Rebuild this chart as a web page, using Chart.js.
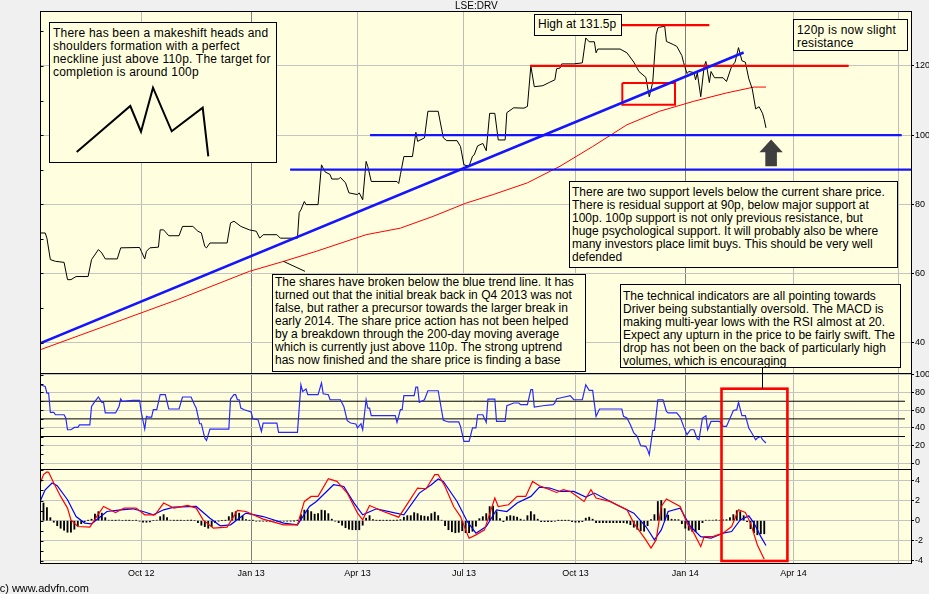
<!DOCTYPE html>
<html><head><meta charset="utf-8">
<script src="https://cdn.jsdelivr.net/npm/chart.js@4.4.1/dist/chart.umd.min.js"></script>
<style>
html,body{margin:0;padding:0;background:#F0F0F0;width:929px;height:594px;overflow:hidden;}
#wrap{position:relative;width:929px;height:594px;}
#c{position:absolute;left:0;top:0;}
.box{position:absolute;background:#FFFFDF;border:1px solid #000;box-sizing:border-box;font-family:"Liberation Sans",Arial,sans-serif;font-size:12px;line-height:13px;color:#000;white-space:nowrap;}
.lbl{position:absolute;font-family:"Liberation Sans",Arial,sans-serif;color:#000;white-space:nowrap;}
</style></head>
<body><div id="wrap">
<canvas id="c" width="929" height="594"></canvas>
<div class="lbl" style="left:455px;top:0px;font-size:10px;">LSE:DRV</div>
<div class="lbl" style="left:-4px;top:582px;font-size:11px;">(c) www.advfn.com</div>
<div class="box" style="left:49px;top:22px;width:228px;height:141px;padding:4px 0 0 3px;letter-spacing:0.2px;">There has been a makeshift heads and<br>shoulders formation with a perfect<br>neckline just above 110p. The target for<br>completion is around 100p
<svg style="position:absolute;left:0;top:0;" width="226" height="139"><polyline points="26.7,129 80.3,83 91,108.7 103,64.7 121.7,108.3 152.7,84.7 158.3,133.3" fill="none" stroke="#000" stroke-width="2"/></svg></div>
<div class="box" style="left:534px;top:14px;width:88px;height:22px;padding:3px 0 0 3px;">High at 131.5p</div>
<div class="box" style="left:793px;top:19px;width:115px;height:32px;padding:4px 0 0 3px;letter-spacing:0.2px;">120p is now slight<br>resistance</div>
<div class="box" style="left:569px;top:181px;width:329px;height:87px;padding:4px 0 0 2px;">There are two support levels below the current share price.<br>There is residual support at 90p, below major support at<br>100p. 100p support is not only previous resistance, but<br>huge psychological support. It will probably also be where<br>many investors place limit buys. This should be very well<br>defended</div>
<div class="box" style="left:272px;top:274px;width:314px;height:98px;padding:1px 0 0 2px;">The shares have broken below the blue trend line. It has<br>turned out that the initial break back in Q4 2013 was not<br>false, but rather a precursor towards the larger break in<br>early 2014. The share price action has not been helped<br>by a breakdown through the 200-day moving average<br>which is currently just above 110p. The strong uptrend<br>has now finished and the share price is finding a base</div>
<div class="box" style="left:620px;top:284px;width:281px;height:84px;padding:5px 0 0 2px;">The technical indicators are all pointing towards<br>Driver being substantially oversold. The MACD is<br>making multi-year lows with the RSI almost at 20.<br>Expect any upturn in the price to be fairly swift. The<br>drop has not been on the back of particularly high<br>volumes, which is encouraging</div>
</div>
<script>
// ---- axis ticks (x = trading days since 1 Oct 2012) ----
const quarterDays = [0, 64, 126, 188, 253, 317, 380, 441];
const quarterLabels = ["Oct 12", "Jan 13", "Apr 13", "Jul 13", "Oct 13", "Jan 14", "Apr 14", ""];
const priceTicks = [40, 60, 80, 100, 120];
const rsiTicks = [0, 20, 40, 60, 80, 100];
const macdTicks = [-4, -2, 0, 2, 4];

// ---- share price (p) ----
const priceDays = [-59,-56,-55,-53,-50,-45,-43,-41,-38,-31,-29,-25,-23,-21,-14,-12,-1,0,2,3,5,10,11,13,16,22,24,30,33,35,37,38,40,50,52,54,58,63,67,69,71,79,81,91,92,93,95,96,103,105,107,110,111,115,116,119,121,126,127,129,131,132,134,149,150,151,153,158,160,161,163,165,167,173,176,178,184,186,188,191,193,194,196,199,201,203,206,208,212,213,217,223,225,227,229,234,238,241,242,244,245,252,257,259,261,264,265,266,279,283,287,290,294,296,298,300,301,302,305,306,310,312,315,316,318,319,322,323,324,326,328,329,331,332,334,339,341,344,346,348,350,352,354,356,358,360,362,363,364];
const priceVals = [71.7,71.7,70.2,64.0,63.5,63.2,58.2,58.2,59.1,59.1,64.0,66.9,65.9,64.2,64.2,67.4,67.5,66.4,64.2,66.4,67.4,67.6,72.6,72.6,70.9,70.9,73.6,73.6,72.2,71.7,67.8,67.4,68.8,68.8,74.6,75.1,73.6,72.6,72.2,70.2,71.2,71.2,70.2,70.2,77.6,78.4,80.8,79.9,79.9,91.4,89.4,88.6,87.3,87.3,87.8,86.2,83.3,82.8,83.3,81.3,92.4,90.9,86.6,86.6,86.0,88.6,93.8,93.8,100.8,98.2,98.7,99.2,106.9,106.9,99.2,98.4,98.4,96.7,91.4,91.0,93.9,94.3,96.9,97.6,95.5,106.3,106.3,98.6,98.6,106.5,107.9,107.8,108.3,120.0,114.0,114.3,115.3,116.0,119.2,119.4,120.6,120.6,120.9,128.1,127.0,127.0,123.8,124.9,124.9,123.8,121.1,118.4,116.7,111.1,115.2,129.1,131.0,131.2,131.5,127.1,126.2,125.7,123.0,121.0,117.8,118.4,118.1,116.0,118.0,111.1,119.9,121.3,115.2,118.4,116.6,116.6,115.5,119.9,121.1,125.3,121.5,121.1,116.3,113.4,107.6,108.2,106.3,104.5,102.1];

// ---- 200-day moving average ----
const maDays = [-59,21,63,83,102,131,151,170,189,205,225,244,263,283,302,322,341,357,364];
const maVals = [37.9,52.4,60.6,63.5,66.4,71.2,73.1,76.5,80.3,82.8,86.2,91.0,96.7,103.0,106.9,109.8,112.2,113.9,113.9];

// ---- drawn lines (annotations) ----
const trendDays = [-59, 351];
const trendVals = [39.8, 123.9];
const supportLevels = [100, 90];
const supportFrom = [133.3, 86.7];
const supportTo = [443.1, 449.1];
const resistLevels = [120, 131.8];
const resistFrom = [226.5, 279.4];
const resistTo = [412.2, 331.0];
const zoneDays = [280.3, 311.0];
const zoneVals = [108.8, 115.1];
const calloutDays = [82.8, 95.4];
const calloutVals = [63.5, 60.6];
const arrowTip = {day: 367, price: 98.7};
const indicatorBoxDays = [338.1, 376.5];
const indicatorBoxTopRsi = 84.2;
const indicatorBoxBottomMacd = -4.0;
const indicatorCallout = {day: 361.5, fromRsi: 108.0, toRsi: 84.2};

// ---- RSI ----
const rsiDays = [-59,-56,-55,-54,-53,-51,-50,-45,-44,-43,-41,-39,-37,-36,-30,-29,-27,-25,-23,-22,-21,-15,-13,-12,-11,-5,-1,0,2,3,4,6,7,9,11,14,16,22,24,29,31,32,34,35,37,38,40,51,52,54,55,56,57,58,60,64,65,68,70,71,79,80,91,93,94,96,97,103,105,106,109,110,116,118,120,122,125,126,128,129,131,132,133,134,148,149,151,152,153,159,160,161,162,163,165,167,173,176,179,185,186,188,191,193,195,196,199,201,202,206,207,212,213,217,220,221,225,227,228,229,234,240,241,242,244,250,252,257,259,261,263,265,267,280,281,283,285,287,289,291,294,295,296,298,299,301,304,306,307,312,314,316,318,320,322,324,325,327,329,330,332,337,339,341,345,347,348,350,352,354,356,358,359,361,362,364];
const rsiVals = [88.7,86.8,79.3,79.3,57.3,57.3,54.7,54.7,51.0,37.7,37.7,40.3,40.3,43.1,43.1,64.1,69.8,74.8,68.7,68.7,56.7,56.7,64.1,72.5,69.8,70.9,70.9,57.3,38.5,52.8,52.1,52.1,60.4,60.4,77.4,77.4,61.2,61.2,74.8,74.8,66.1,62.3,44.5,44.5,28.3,25.6,38.5,38.5,72.5,77.4,77.4,71.7,71.7,62.3,60.4,57.8,49.9,49.1,35.8,45.3,45.3,34.7,34.7,88.7,81.1,83.9,77.4,77.4,90.7,78.5,77.4,71.7,71.7,64.1,47.9,45.3,44.2,39.7,44.5,37.7,71.7,62.3,62.3,53.6,53.6,46.0,60.4,60.4,76.3,76.3,86.1,86.1,68.7,69.8,71.7,81.9,81.9,48.3,46.5,46.5,41.5,24.5,24.5,39.7,39.7,54.7,54.7,46.0,72.5,72.5,47.1,47.1,64.9,68.0,68.0,66.1,66.1,83.1,83.1,63.5,64.9,66.1,68.0,72.9,73.7,76.3,71.7,71.7,88.7,82.3,82.3,52.8,61.2,61.2,52.8,51.0,43.4,34.0,30.1,19.6,18.8,15.1,9.4,36.9,36.9,71.7,71.7,58.5,56.7,56.7,52.1,41.5,32.1,37.7,37.7,27.2,26.4,51.0,53.6,37.7,47.1,47.1,41.5,41.5,59.6,60.4,68.7,53.6,53.6,39.7,33.2,26.4,28.3,30.1,26.4,22.7];
const rsiLevels = [30, 50, 70];
const rsiLevelFrom = -59.03, rsiLevelTo = 445;

// ---- MACD ----
const macdDays = [-59,-57,-55,-54,-51,-47,-43,-41,-37,-30,-26,-22,-15,-10,-3,2,8,13,19,27,32,36,42,50,56,61,71,83,91,95,99,103,109,114,120,126,129,133,141,150,156,161,166,171,173,177,182,186,189,191,195,200,206,208,214,219,224,228,232,237,242,246,250,258,262,265,273,283,287,294,297,300,303,306,314,318,322,326,328,333,339,344,348,352,355,359,363];
const macdVals = [3.67,4.57,4.84,4.80,3.74,2.41,1.25,0.08,-0.58,-0.64,0.41,1.41,0.81,1.25,1.25,0.58,0.58,1.75,1.25,1.51,1.25,0.08,-0.74,-0.64,1.01,0.91,0.15,-0.41,-0.41,1.91,2.41,2.41,4.17,3.90,2.74,0.75,0.08,1.51,0.91,0.35,1.91,3.24,3.17,4.57,4.57,3.40,1.41,0.41,-0.91,-1.74,-1.41,-0.91,2.25,1.41,1.58,2.41,2.41,3.90,3.47,3.14,2.80,3.07,2.90,1.91,3.07,2.25,1.91,1.08,-0.24,-1.91,-2.73,-1.91,1.41,2.15,1.41,-0.24,-1.24,-2.57,-1.58,-1.58,-1.24,-0.58,1.08,0.81,-0.24,-2.41,-3.83];
const signalDays = [-59,-56,-52,-49,-43,-38,-33,-29,-20,-12,-5,1,7,13,19,32,40,46,52,61,71,83,91,98,102,108,112,118,124,129,137,153,162,169,173,176,184,190,195,201,207,213,219,227,232,238,244,252,259,264,277,287,294,299,303,307,314,320,326,332,339,344,349,354,357,361,364];
const signalVals = [1.91,3.07,3.74,3.47,2.08,0.41,-0.24,-0.31,0.91,1.08,1.18,0.91,0.58,1.08,1.35,1.41,0.25,-0.51,-0.41,0.75,0.41,-0.24,-0.41,1.41,1.91,2.90,3.57,3.40,1.75,0.58,1.18,0.58,2.74,3.57,4.14,3.90,1.91,-0.10,-1.24,-0.58,1.08,0.91,1.75,2.41,3.34,3.24,2.90,2.90,2.35,2.74,1.58,0.75,-0.58,-1.91,-0.91,0.91,1.25,-0.58,-1.58,-1.74,-1.24,-1.08,0.08,0.48,-0.24,-1.58,-2.47];
// histogram, one bar every second trading day from day -59
const histStart = -59, histStep = 2;
const histVals = [1.9,1.75,1.3,0.3,-0.15,-0.5,-0.75,-0.95,-1.15,-1.15,
-0.85,-0.5,-0.3,-0.1,0.02,0.15,0.65,0.9,0.75,0.3,
0.05,0.03,0.02,0.04,0,0.03,0.02,0,0.03,-0.05,
-0.15,-0.15,-0.12,0,0.05,0.4,0.6,0.3,0.05,0.03,
0.02,0.03,0,0.03,0.02,0,-0.2,-0.45,-0.6,-0.75,
-0.6,-0.2,-0.03,0,0.02,0.4,0.8,0.9,0.75,0.45,
0.1,0.03,0.02,-0.05,-0.04,-0.05,-0.06,-0.05,-0.04,-0.05,
-0.06,-0.05,-0.04,-0.03,-0.02,0.02,0.6,1.05,1.05,0.9,
0.65,0.7,1.05,1.0,0.7,0.15,-0.05,-0.2,-0.45,-0.7,
-0.85,-0.9,-0.9,-0.9,-0.45,0.25,0.5,0.1,0.03,0.02,
0.03,0.02,0.03,0.02,0.03,0.1,0.35,0.5,0.5,0.8,
0.7,0.5,0.45,0.4,0.7,0.85,0.5,0.05,-0.5,-0.9,
-1.1,-1.2,-1.15,-1.0,-1.2,-1.2,-1.05,-0.55,0.2,0.4,
0.7,1.4,1.45,0.9,0.2,-0.1,0.4,0.5,0.45,0.35,
0.15,0.05,0.5,0.9,0.6,0.15,-0.1,-0.1,-0.1,-0.1,
-0.05,0.02,0.02,0.02,0.02,-0.1,-0.15,-0.15,-0.1,0.25,
0.35,0.15,-0.2,-0.2,-0.2,-0.2,-0.2,-0.2,-0.2,-0.2,
-0.2,-0.25,-0.4,-0.65,-0.85,-1.0,-1.05,-0.5,0.1,0.6,
1.9,2.0,1.2,0.55,0.15,0.1,0.1,-0.3,-0.75,-0.95,
-1.05,-1.1,-0.9,-0.2,0.05,0.05,0.05,0.08,0.05,0.08,
0.1,0.3,0.6,1.0,0.9,0.5,-0.1,-0.8,-1.2,-1.4,
-1.3,-1.3];

// ---- helpers ----
const pts = (xs, ys) => xs.map((x, i) => ({x: x, y: ys[i]}));
const FONT = '"Liberation Sans", Arial, sans-serif';
const BG = '#FFFFDF';
const BLUE = '#1414FF';

const lineDs = (data, axis, color, width, order) => ({
  type: 'line', data: data, yAxisID: axis, borderColor: color, borderWidth: width,
  pointRadius: 0, tension: 0, fill: false, order: order
});

const datasets = [];
datasets.push(lineDs(pts(maDays, maVals), 'y', '#FF0000', 1, 5));
datasets.push(lineDs(pts(priceDays, priceVals), 'y', '#000000', 1, 4));
datasets.push(lineDs(pts(trendDays, trendVals), 'y', BLUE, 2.5, 1));
supportLevels.forEach((lv, i) => datasets.push(lineDs([{x: supportFrom[i], y: lv}, {x: supportTo[i], y: lv}], 'y', BLUE, 2.2, 1)));
resistLevels.forEach((lv, i) => datasets.push(lineDs([{x: resistFrom[i], y: lv}, {x: resistTo[i], y: lv}], 'y', '#FF0000', 2.2, 1)));
datasets.push(lineDs([
  {x: zoneDays[0], y: zoneVals[1]}, {x: zoneDays[1], y: zoneVals[1]},
  {x: zoneDays[1], y: zoneVals[0]}, {x: zoneDays[0], y: zoneVals[0]},
  {x: zoneDays[0], y: zoneVals[1]}], 'y', '#FF0000', 2, 1));
datasets.push(lineDs(pts(calloutDays, calloutVals), 'y', '#000000', 1, 1));
rsiLevels.forEach(lv => datasets.push(lineDs([{x: rsiLevelFrom, y: lv}, {x: rsiLevelTo, y: lv}], 'yRsi', '#000000', 1, 6)));
datasets.push(lineDs(pts(rsiDays, rsiVals), 'yRsi', '#2828FF', 1.2, 2));
datasets.push({
  type: 'bar', yAxisID: 'yMacd', order: 7, grouped: false,
  data: histVals.map((v, i) => ({x: histStart + i * histStep, y: v})),
  backgroundColor: '#000000', borderWidth: 0, barThickness: 1.2
});
datasets.push(lineDs(pts(signalDays, signalVals), 'yMacd', '#0000FF', 1.2, 3));
datasets.push(lineDs(pts(macdDays, macdVals), 'yMacd', '#FF0000', 1.2, 2));

const tickFont = {family: FONT, size: 9};
const yAxis = (min, max, ticks, weight) => ({
  type: 'linear', position: 'right', stack: 'panels', stackWeight: weight,
  min: min, max: max, offset: false,
  afterBuildTicks: s => { s.ticks = ticks.map(v => ({value: v})); },
  afterFit: s => { s.width = 17; },
  grid: {color: '#C4C4C4', lineWidth: 1, drawTicks: true, tickLength: 2, tickColor: '#000', offset: false},
  border: {display: false},
  ticks: {font: tickFont, color: '#000', padding: 1, autoSkip: false}
});

const decor = {
  id: 'decor',
  beforeDraw(chart) {
    const {ctx, chartArea: a} = chart;
    ctx.save();
    ctx.fillStyle = BG;
    ctx.fillRect(a.left, a.top, a.right - a.left, a.bottom - a.top);
    ctx.restore();
  },
  afterDatasetsDraw(chart) {
    const {ctx, chartArea: a, scales} = chart;
    const X = scales.x, Y = scales.y, R = scales.yRsi, M = scales.yMacd;
    ctx.save();
    ctx.strokeStyle = '#000'; ctx.lineWidth = 1;
    const L = Math.round(a.left) + 0.5, Rr = Math.round(a.right) - 0.5;
    ctx.strokeRect(L, Math.round(a.top) + 0.5, Rr - L, Math.round(a.bottom) - Math.round(a.top) - 1);
    [Y.bottom, R.bottom].forEach(yb => {
      ctx.beginPath(); ctx.moveTo(L, Math.round(yb) + 0.5); ctx.lineTo(Rr, Math.round(yb) + 0.5); ctx.stroke();
    });
    const minor = (sc, step) => {
      const start = Math.ceil(sc.min / step) * step;
      for (let v = start; v <= sc.max; v += step) {
        const p = Math.round(sc.getPixelForValue(v)) + 0.5;
        ctx.beginPath(); ctx.moveTo(L, p); ctx.lineTo(L + 3, p); ctx.stroke();
      }
    };
    minor(Y, 10); minor(R, 10); minor(M, 1);
    ctx.strokeStyle = '#FF0000'; ctx.lineWidth = 2.6;
    const bx0 = X.getPixelForValue(indicatorBoxDays[0]), bx1 = X.getPixelForValue(indicatorBoxDays[1]);
    const by0 = R.getPixelForValue(indicatorBoxTopRsi), by1 = M.getPixelForValue(indicatorBoxBottomMacd);
    ctx.strokeRect(bx0, by0, bx1 - bx0, by1 - by0);
    ctx.strokeStyle = '#000'; ctx.lineWidth = 1;
    const cx = Math.round(X.getPixelForValue(indicatorCallout.day)) + 0.5;
    ctx.beginPath(); ctx.moveTo(cx, R.getPixelForValue(indicatorCallout.fromRsi)); ctx.lineTo(cx, R.getPixelForValue(indicatorCallout.toRsi)); ctx.stroke();
    const tx = X.getPixelForValue(arrowTip.day), ty = Y.getPixelForValue(arrowTip.price);
    ctx.fillStyle = '#3F3F3F';
    ctx.beginPath();
    ctx.moveTo(tx, ty); ctx.lineTo(tx + 11.7, ty + 12.7); ctx.lineTo(tx + 5.8, ty + 12.7);
    ctx.lineTo(tx + 5.8, ty + 26.7); ctx.lineTo(tx - 5.8, ty + 26.7); ctx.lineTo(tx - 5.8, ty + 12.7);
    ctx.lineTo(tx - 11.7, ty + 12.7); ctx.closePath(); ctx.fill();
    ctx.restore();
  }
};

new Chart(document.getElementById('c'), {
  type: 'line',
  data: {datasets: datasets},
  options: {
    responsive: false, animation: false, devicePixelRatio: 1,
    layout: {padding: {left: 40, top: 11, right: 0, bottom: 0}},
    plugins: {legend: {display: false}, tooltip: {enabled: false}, title: {display: false}},
    scales: {
      x: {
        type: 'linear', min: -59.03, max: 449.1, offset: false,
        afterBuildTicks: s => { s.ticks = quarterDays.map(v => ({value: v})); },
        afterFit: s => { s.height = 30; },
        grid: {offset: false, color: c => (quarterLabels[c.index] || '').startsWith('Jan') ? '#7E7E7E' : '#BCBCBC', drawTicks: false, tickLength: 0},
        border: {display: false},
        ticks: {font: tickFont, color: '#000', padding: 4, maxRotation: 0, autoSkip: false,
                callback: (v, i) => quarterLabels[i]}
      },
      y: yAxis(31.2, 135.9, priceTicks, 362),
      yRsi: yAxis(-6.8, 102.0, rsiTicks, 96),
      yMacd: yAxis(-4.3, 5.13, macdTicks, 95)
    }
  },
  plugins: [decor]
});
</script>
</body></html>
